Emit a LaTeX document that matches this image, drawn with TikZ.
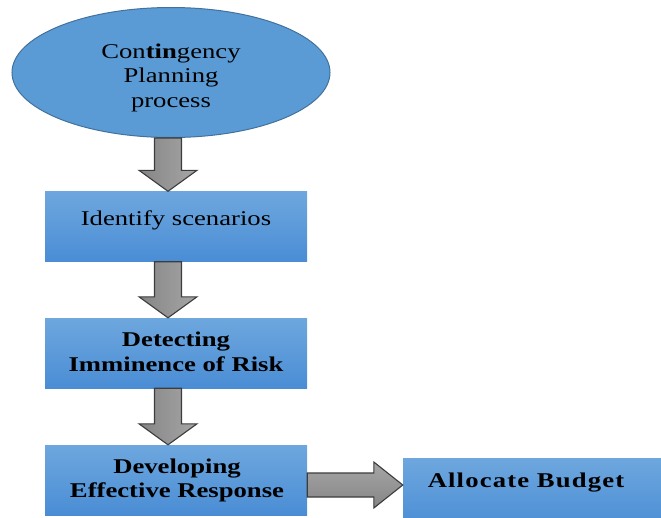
\documentclass[tikz,border=0pt]{standalone}
\usepackage{fontspec}
\setmainfont{Liberation Serif}[FakeStretch=1.27]
\usetikzlibrary{calc,shapes.geometric}
\definecolor{ellfill}{HTML}{5B9BD5}
\definecolor{elldraw}{HTML}{41719C}
\definecolor{boxtop}{HTML}{6EA7DE}
\definecolor{boxbot}{HTML}{4A8DD5}
\definecolor{arrdraw}{HTML}{3C3C3C}
\definecolor{arrlight}{HTML}{A6A6A6}
\definecolor{arrdark}{HTML}{858585}
\tikzset{
  ellnode/.style={ellipse, draw=elldraw, line width=1pt, fill=ellfill, minimum width=318pt, minimum height=130pt, inner sep=0pt},
  stepbox/.style={rectangle, draw=none, top color=boxtop, bottom color=boxbot, minimum width=262pt, minimum height=70pt, inner sep=0pt},
  txt/.style={align=center, inner sep=0pt, font=\fontsize{21}{24.5}\selectfont},
  btxt/.style={txt, font=\fontsize{21}{24.5}\selectfont\bfseries},
  blockarrow/.style={draw=arrdraw, line width=1.1pt, line join=miter, left color=arrdark, right color=arrlight, shading angle=90},
  hblockarrow/.style={draw=arrdraw, line width=1.1pt, line join=miter, top color=arrlight, bottom color=arrdark}
}
\newcommand\vblockarrow[2]{%
  \draw[blockarrow] let \p1=#1, \p2=#2 in
    (\x1-13.5pt,\y1) -- (\x1+13.5pt,\y1) -- (\x1+13.5pt,\y2+21pt) -- (\x1+29pt,\y2+21pt)
    -- (\x2,\y2) -- (\x1-29pt,\y2+21pt) -- (\x1-13.5pt,\y2+21pt) -- cycle;}
\newcommand\hblockarrowcmd[2]{%
  \draw[hblockarrow] let \p1=#1, \p2=#2 in
    (\x1,\y1+12pt) -- (\x2-29pt,\y1+12pt) -- (\x2-29pt,\y1+23pt) -- (\x2,\y1)
    -- (\x2-29pt,\y1-23pt) -- (\x2-29pt,\y1-12pt) -- (\x1,\y1-12pt) -- cycle;}
\begin{document}
\begin{tikzpicture}[x=1pt,y=-1pt]
\useasboundingbox (0,0) rectangle (661,517);
\clip (0,0) rectangle (661,517);
% nodes
\node[ellnode] (ell) at (171,72.5) {};
\node[txt] (elltxt) at (171,77.5) {Con\textbf{tin}gency\\Planning\\process};
\node[stepbox] (b1) at (176,226.5) {};
\node[txt] (b1txt) at (176,220) {Identify scenarios};
\node[stepbox] (b2) at (176,353) {};
\node[btxt] (b2txt) at (176,352) {Detecting\\Imminence of Risk};
\node[stepbox] (b3) at (176,480) {};
\node[btxt] (b3txt) at (177,480.5) {Developing\\Effective Response};
\node[stepbox] (b4) at (534,493) {};
\node[btxt] (b4txt) at (526,483) {\addfontfeatures{LetterSpace=5.5}Allocate Budget};
% arrows
\coordinate (ax) at (168,0);
\vblockarrow{(ell.south -| ax)}{(b1.north -| ax)}
\vblockarrow{(b1.south -| ax)}{(b2.north -| ax)}
\vblockarrow{(b2.south -| ax)}{(b3.north -| ax)}
\coordinate (ay) at (0,485);
\hblockarrowcmd{(b3.east |- ay)}{(b4.west |- ay)}
\end{tikzpicture}
\end{document}
